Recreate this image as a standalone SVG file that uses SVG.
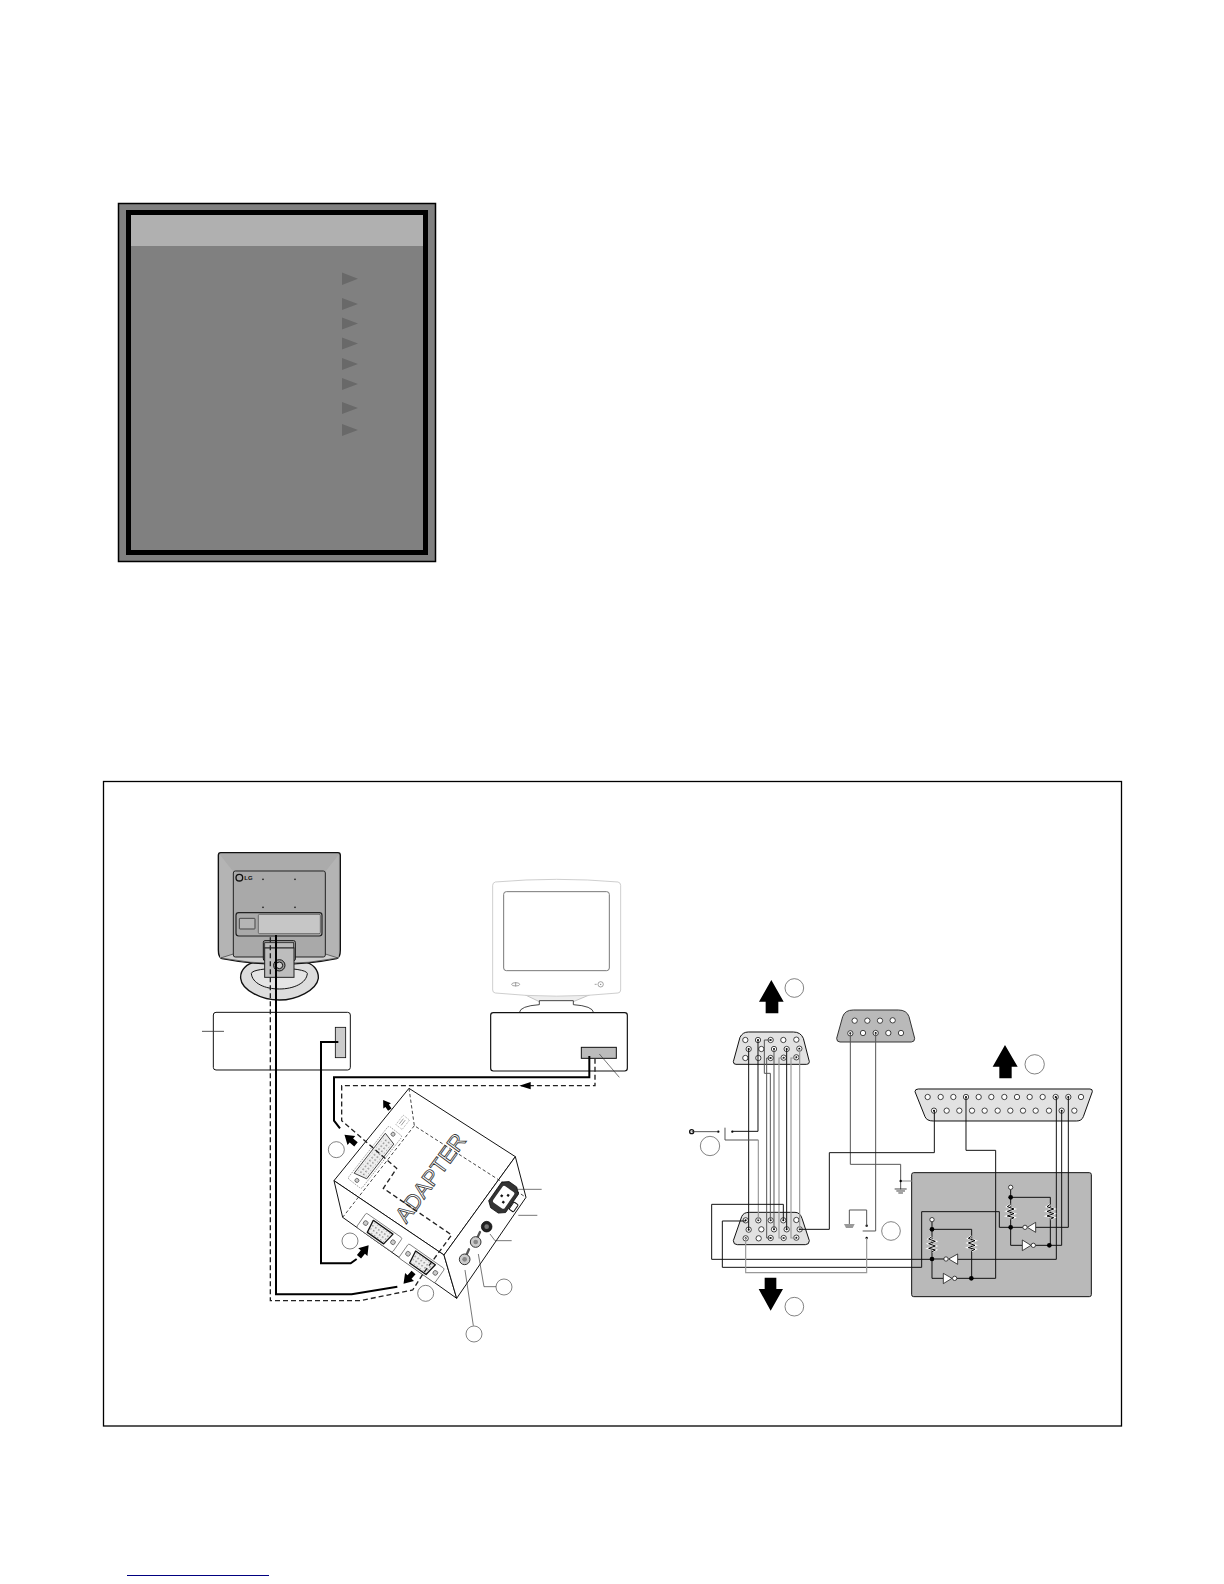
<svg xmlns="http://www.w3.org/2000/svg" xmlns:xlink="http://www.w3.org/1999/xlink" width="1224" height="1584" viewBox="0 0 1224 1584">
<style>
.k{fill:none;stroke:#111;stroke-width:3}
.d{fill:none;stroke:#555;stroke-width:3}
.g{fill:none;stroke:#999;stroke-width:3.5}
.cab{fill:none;stroke:#000;stroke-width:6}
.dash{fill:none;stroke:#222;stroke-width:4;stroke-dasharray:15 9}
.thin{fill:none;stroke:#222;stroke-width:2.5;stroke-dasharray:10 7}
.lead{fill:none;stroke:#333;stroke-width:2}
.lab{fill:#fff;stroke:#444;stroke-width:2}
.e{fill:#fff;stroke:#222;stroke-width:2.5}
.face{fill:#fff;stroke:#111;stroke-width:3;stroke-linejoin:round}
.tri{fill:#696969}
.dot{fill:#000}
</style>
<defs>
<polygon id="ba" points="0,-24 -20,6 -9,6 -9,26 9,26 9,6 20,6" fill="#000"/>
<g id="pin"><circle r="8" class="e"/><circle r="3" fill="#000"/></g>
<circle id="pe" r="8" class="e"/>
<g id="res"><path d="M0 -22 L-10 -15 L10 -8 L-10 -1 L10 6 L-10 13 L10 18 L0 23" fill="none" stroke="#fff" stroke-width="6"/><path d="M0 -22 L-10 -15 L10 -8 L-10 -1 L10 6 L-10 13 L10 18 L0 23" fill="none" stroke="#000" stroke-width="3"/></g>
<pattern id="dots" width="11" height="11" patternUnits="userSpaceOnUse"><circle cx="5" cy="5" r="2.300" fill="#777"/></pattern>
</defs>
<rect width="1224" height="1584" fill="#fff"/>

<g id="osd-panel">
<rect x="118.5" y="203.5" width="317" height="358" fill="#808080" stroke="#000" stroke-width="1.5"/>
<rect x="128.500" y="212.500" width="297" height="340" fill="#808080" stroke="#000" stroke-width="5"/>
<rect x="131" y="215" width="292" height="31" fill="#b0b0b0"/>
<polygon class="tri" points="342,272.500 358,278.700 342,285"/>
<polygon class="tri" points="342,298 358,304 342,310"/>
<polygon class="tri" points="342,317.500 358,323.500 342,329.500"/>
<polygon class="tri" points="342,337.500 358,343.500 342,349.500"/>
<polygon class="tri" points="342,358 358,364 342,370"/>
<polygon class="tri" points="342,378 358,384 342,390"/>
<polygon class="tri" points="342,402 358,408 342,414"/>
<polygon class="tri" points="342,424 358,430 342,436"/>
</g>

<rect id="frame" x="103.500" y="781.500" width="1018" height="644.500" fill="#fff" stroke="#000" stroke-width="1.300"/>

<g id="lcd-monitor" transform="translate(190 830) scale(.33333)">
<path d="M152 445 C150 420 170 400 200 395 H340 C370 400 386 420 385 445 C380 480 320 510 268 510 C215 510 155 480 152 445Z" fill="#ddd" stroke="#111" stroke-width="4"/>
<path d="M184 430 C190 410 345 410 352 430 C350 460 310 477 268 477 C225 477 186 460 184 430Z" fill="#e4e4e4" stroke="#111" stroke-width="3"/>
<path d="M92 68 H444 Q451 68 451 76 V360 Q451 382 440 386 Q270 420 96 386 Q85 382 85 360 V76 Q85 68 92 68Z" fill="#ababab" stroke="#111" stroke-width="4"/>
<path d="M90 74 L130 125 V372 L90 384Z M446 74 L406 125 V372 L446 384Z" fill="#b4b4b4"/>
<path d="M92 384 L130 372 H406 L444 384 Q270 418 92 384Z" fill="#cfcfcf" stroke="#333" stroke-width="2"/>
<rect x="130" y="123" width="276" height="258" rx="6" fill="#a9a9a9" stroke="#222" stroke-width="3"/>
<circle cx="148" cy="143" r="10" fill="none" stroke="#111" stroke-width="4"/>
<text x="163" y="150" font-family="Liberation Sans, sans-serif" font-size="18" font-weight="bold" fill="#111">LG</text>
<circle cx="219" cy="148" r="2.500" fill="#111"/><circle cx="315" cy="148" r="2.500" fill="#111"/><circle cx="219" cy="232" r="2.500" fill="#111"/><circle cx="315" cy="232" r="2.500" fill="#111"/>
<rect x="138" y="248" width="258" height="70" rx="8" fill="#a9a9a9" stroke="#222" stroke-width="3.500"/>
<rect x="205" y="253" width="186" height="58" rx="4" fill="#c6c6c6" stroke="#444" stroke-width="2"/>
<rect x="148" y="265" width="47" height="32" rx="2" fill="#b5b5b5" stroke="#333" stroke-width="2.500"/>
<rect x="220" y="332" width="96" height="60" rx="5" fill="#a9a9a9" stroke="#111" stroke-width="3"/>
<rect x="224" y="338" width="87" height="16" fill="#bbb" stroke="#222" stroke-width="2.500"/>
<rect x="224" y="354" width="88" height="88" fill="#bdbdbd" stroke="#222" stroke-width="3"/>
<circle cx="268" cy="406" r="17" fill="#999" stroke="#111" stroke-width="3"/>
<circle cx="268" cy="406" r="10" fill="#ccc" stroke="#111" stroke-width="3"/>
</g>

<g id="pc-left" transform="translate(190 830) scale(.33333)">
<rect x="70" y="547" width="411" height="173" rx="8" fill="#fff" stroke="#111" stroke-width="3"/>
<rect x="436" y="592" width="31" height="91" fill="#ccc" stroke="#111" stroke-width="2.500"/>
<path d="M36 604 H102" stroke="#333" stroke-width="2.500"/>
</g>

<g id="crt-monitor" transform="translate(470 860) scale(.33333)">
<path d="M160 402 L208 425 H310 L365 402Z" fill="#eee" stroke="#aaa" stroke-width="2"/>
<path d="M148 458 Q150 438 208 434 V422 H310 V434 Q368 438 371 458Z" fill="#fff" stroke="#222" stroke-width="2.500"/>
<path d="M76 66 Q260 50 444 66 Q452 68 452 76 V390 Q452 398 444 399 Q260 418 76 399 Q68 398 68 390 V76 Q68 68 76 66Z" fill="#fff" stroke="#c4c4c4" stroke-width="2.500"/>
<rect x="101" y="95" width="317" height="237" rx="8" fill="#fff" stroke="#777" stroke-width="3"/>
<ellipse cx="137" cy="373" rx="12" ry="5" fill="none" stroke="#777" stroke-width="2"/>
<path d="M137 367 V379" stroke="#777" stroke-width="2"/>
<circle cx="392" cy="373" r="8" fill="none" stroke="#777" stroke-width="2"/>
<circle cx="392" cy="373" r="2" fill="#777"/>
<path d="M374 373 H380" stroke="#777" stroke-width="2"/>
</g>

<g id="pc-right" transform="translate(470 860) scale(.33333)">
<rect x="62" y="458" width="410" height="175" rx="8" fill="#fff" stroke="#111" stroke-width="3.500"/>
<rect x="334" y="562" width="105" height="33" fill="#bbb" stroke="#111" stroke-width="3"/>
<path d="M388 582 L448 652" stroke="#333" stroke-width="2"/>
</g>

<g id="adapter" transform="translate(260 1060) scale(.33333)">
<polygon class="face" points="447,85 766,290 552,585 222,362"/>
<polygon class="face" points="222,362 552,585 590,715 248,472"/>
<polygon class="face" points="552,585 766,290 798,412 590,715"/>
<path class="thin" d="M447 85 L463 197 L798 412 M463 197 L248 472"/>
<text x="0" y="0" transform="translate(530 367) rotate(-54)" text-anchor="middle" font-family="Liberation Sans, sans-serif" font-size="66" fill="#fff" stroke="#333" stroke-width="2.500">ADAPTER</text>
<g transform="translate(345 292) rotate(-52)">
<rect x="-100" y="-26" width="200" height="52" rx="6" fill="#fff" stroke="#777" stroke-width="2" stroke-dasharray="4 3"/>
<path d="M-76 -20 H76 L66 20 H-66Z" fill="#eee" stroke="#333" stroke-width="2.500" stroke-linejoin="round"/>
<path d="M-70 -15 H70 L62 15 H-62Z" fill="url(#dots)"/>
<circle cx="-88" cy="0" r="6" fill="#ccc" stroke="#444" stroke-width="2"/>
<circle cx="88" cy="0" r="6" fill="#ccc" stroke="#444" stroke-width="2"/>
</g>
<g transform="translate(428 187) rotate(-52)"><rect x="-18" y="-12" width="36" height="24" fill="#fff" stroke="#888" stroke-width="2" stroke-dasharray="3 3"/><path d="M-10 -5 H10 M-10 2 H10" stroke="#777" stroke-width="2"/></g>
<g transform="translate(358 518) rotate(35)">
<rect x="-66" y="-26" width="132" height="52" rx="5" fill="#fff" stroke="#555" stroke-width="2"/>
<path d="M-36 -20 H36 L30 20 H-30Z" fill="#eee" stroke="#111" stroke-width="4" stroke-linejoin="round"/>
<path d="M-32 -16 H32 L27 16 H-27Z" fill="url(#dots)"/>
<circle cx="-50" cy="0" r="7" fill="#ccc" stroke="#444" stroke-width="2"/>
<circle cx="50" cy="0" r="7" fill="#ccc" stroke="#444" stroke-width="2"/>
</g>
<g transform="translate(485 610) rotate(35)">
<rect x="-66" y="-26" width="132" height="52" rx="5" fill="#fff" stroke="#555" stroke-width="2"/>
<path d="M-36 -20 H36 L30 20 H-30Z" fill="#eee" stroke="#111" stroke-width="4" stroke-linejoin="round"/>
<path d="M-32 -16 H32 L27 16 H-27Z" fill="url(#dots)"/>
<circle cx="-50" cy="0" r="7" fill="#ccc" stroke="#444" stroke-width="2"/>
<circle cx="50" cy="0" r="7" fill="#ccc" stroke="#444" stroke-width="2"/>
</g>
<g transform="translate(731 412) rotate(-55)">
<path d="M-48 -14 L-34 -31 H34 L48 -14 V14 L34 31 H-34 L-48 14Z" fill="#333" stroke="#000" stroke-width="2"/>
<rect x="-30" y="-21" width="60" height="42" rx="6" fill="#fff"/>
<rect x="-16" y="4" width="7" height="7" fill="#111"/><rect x="9" y="4" width="7" height="7" fill="#111"/><rect x="-3" y="-11" width="7" height="7" fill="#111"/>
</g>
<rect x="753" y="428" width="16" height="26" rx="3" transform="rotate(35 761 441)" fill="#fff" stroke="#111" stroke-width="3"/>
<circle cx="680" cy="500" r="16" fill="#222" stroke="#000" stroke-width="2"/>
<circle cx="680" cy="500" r="7" fill="#777"/>
<path d="M650 538 L660 516" stroke="#555" stroke-width="7" stroke-linecap="round"/>
<circle cx="647" cy="546" r="16" fill="#ccc" stroke="#333" stroke-width="3"/>
<circle cx="647" cy="546" r="7" fill="#888"/>
<path d="M617 590 L627 568" stroke="#555" stroke-width="7" stroke-linecap="round"/>
<circle cx="614" cy="598" r="16" fill="#ccc" stroke="#333" stroke-width="3"/>
<circle cx="614" cy="598" r="7" fill="#888"/>
</g>

<g id="port-labels" transform="translate(260 1060) scale(.33333)">
<circle class="lab" cx="229" cy="269" r="24"/>
<circle class="lab" cx="270" cy="543" r="24"/>
<circle class="lab" cx="497" cy="700" r="24"/>
<circle class="lab" cx="732" cy="681" r="24"/>
<circle class="lab" cx="642" cy="822" r="24"/>
<path class="lead" d="M770 388 H845 M775 466 H832 M690 522 L705 542 H755 M655 582 L672 680 H708 M615 630 L640 797"/>
</g>

<g id="cables" transform="translate(260 1060) scale(.33333)">
<path class="cab" d="M48 -375 V703 H275 L412 680"/>
<path class="dash" d="M31 -368 V722 H300 L458 690 L490 640 L575 525 L370 385 L410 325 L245 182 V77 H1005 V-5"/>
<path class="cab" d="M235 -54 H183 V610 H272 L290 597"/>
<path class="cab" d="M988 -12 V52 H222 V182 L240 205"/>
<polygon points="778,77 812,66 812,88" fill="#000"/>
<use xlink:href="#ba" href="#ba" transform="translate(270 238) rotate(-50) scale(.9)"/>
<use xlink:href="#ba" href="#ba" transform="translate(379 134) rotate(-35) scale(.7)"/>
<use xlink:href="#ba" href="#ba" transform="translate(312 572) rotate(40) scale(.9)"/>
<use xlink:href="#ba" href="#ba" transform="translate(445 655) rotate(222) scale(.9)"/>
</g>

<g id="vga-top" transform="translate(680 960) scale(.33333)">
<path d="M160 305 L180 232 Q188 216 205 216 H340 Q362 216 370 235 L388 305 Q388 313 380 313 H168 Q160 313 160 305Z" fill="#e2e2e2" stroke="#111" stroke-width="3"/>
<use href="#pe" x="196" y="240"/><use href="#pin" x="234" y="240"/><use href="#pin" x="272" y="240"/><use href="#pe" x="310" y="240"/><use href="#pe" x="349" y="239"/>
<use href="#pin" x="206" y="267"/><use href="#pe" x="244" y="267"/><use href="#pin" x="282" y="267"/><use href="#pin" x="320" y="267"/><use href="#pin" x="358" y="266"/>
<use href="#pe" x="196" y="294"/><use href="#pe" x="235" y="294"/><use href="#pin" x="272" y="294"/><use href="#pin" x="311" y="293"/><use href="#pin" x="349" y="292"/>
<path d="M274 60 L237 125 H257 V160 H295 V125 H311Z" fill="#000"/>
<circle class="lab" cx="343" cy="84" r="28"/>
<circle class="lab" cx="90" cy="558" r="29"/>
<circle cx="35" cy="515" r="6" fill="#fff" stroke="#111" stroke-width="4"/>
<circle cx="115" cy="515" r="3.500" class="dot"/><circle cx="157" cy="515" r="3.500" class="dot"/>
<path d="M35 515 H115" stroke="#333" stroke-width="2.500"/>
</g>

<g id="dsub9" transform="translate(680 960) scale(.33333)">
<path d="M470 235 L488 170 Q495 150 520 150 H655 Q680 150 687 170 L704 235 Q704 246 694 246 H480 Q470 246 470 235Z" fill="#b9b9b9" stroke="#333" stroke-width="3"/>
<use href="#pe" x="524" y="182"/><use href="#pe" x="562" y="182"/><use href="#pe" x="600" y="182"/><use href="#pe" x="638" y="181"/>
<use href="#pin" x="511" y="220"/><use href="#pe" x="549" y="219"/><use href="#pin" x="587" y="219"/><use href="#pe" x="625" y="219"/><use href="#pe" x="663" y="219"/>
</g>

<g id="vga-bottom" transform="translate(690 1150) scale(.33333)">
<path d="M130 272 L155 200 Q160 187 178 187 H315 Q330 187 336 205 L358 272 Q358 284 346 284 H142 Q130 284 130 272Z" fill="#e2e2e2" stroke="#111" stroke-width="3"/>
<use href="#pin" x="167" y="211"/><use href="#pin" x="205" y="211"/><use href="#pin" x="242" y="211"/><use href="#pin" x="280" y="211"/><use href="#pe" x="319" y="210"/>
<use href="#pin" x="176" y="239"/><use href="#pe" x="214" y="238"/><use href="#pin" x="252" y="238"/><use href="#pin" x="290" y="238"/><use href="#pin" x="329" y="238"/>
<use href="#pin" x="167" y="265"/><use href="#pe" x="206" y="265"/><use href="#pin" x="242" y="264"/><use href="#pin" x="281" y="264"/><use href="#pin" x="319" y="263"/>
<path d="M224 383 H259 V417 H279 L242 482 L206 417 H224Z" fill="#000"/>
<circle class="lab" cx="313" cy="470" r="28"/>
<circle class="lab" cx="603" cy="243" r="28"/>
<path d="M462 222 H494 L488 234 H468Z" fill="#999"/>
<circle cx="530" cy="227" r="3.500" class="dot"/><circle cx="530" cy="264" r="3.500" class="dot"/>
</g>

<g id="latch-box" transform="translate(890 1040) scale(.33333)">
<rect x="65" y="398" width="539" height="372" rx="6" fill="#b9b9b9" stroke="#111" stroke-width="3"/>
</g>

<g id="db25" transform="translate(890 1040) scale(.33333)">
<path d="M75 155 Q75 147 85 147 H600 Q608 147 607 155 L580 230 Q575 243 560 243 H130 Q110 243 105 230Z" fill="#e2e2e2" stroke="#111" stroke-width="3"/>
<use href="#pe" x="113" y="171"/><use href="#pe" x="152" y="171"/><use href="#pe" x="190" y="171"/><use href="#pin" x="228" y="171"/><use href="#pe" x="266" y="171"/><use href="#pe" x="304" y="171"/><use href="#pe" x="343" y="171"/><use href="#pe" x="381" y="171"/><use href="#pe" x="419" y="171"/><use href="#pe" x="458" y="171"/><use href="#pin" x="497" y="171"/><use href="#pin" x="535" y="171"/><use href="#pe" x="573" y="171"/>
<use href="#pin" x="132" y="212"/><use href="#pe" x="170" y="212"/><use href="#pe" x="208" y="212"/><use href="#pe" x="246" y="212"/><use href="#pe" x="284" y="212"/><use href="#pe" x="323" y="212"/><use href="#pe" x="361" y="212"/><use href="#pe" x="399" y="212"/><use href="#pe" x="437" y="212"/><use href="#pe" x="477" y="212"/><use href="#pin" x="515" y="212"/><use href="#pe" x="553" y="212"/>
<path d="M345 15 L308 80 H328 V115 H365 V80 H383Z" fill="#000"/>
<circle class="lab" cx="434" cy="73" r="29"/>
</g>

<g id="wiring" transform="translate(690 1150) scale(.33333)">
<path class="k" d="M176 -303 V239"/>
<path class="k" d="M204 -330 V-56 H127"/>
<path class="d" d="M105 -67 V-30 H205"/><path class="g" d="M205 -30 V211"/>
<path class="d" d="M242 -330 H223 V-230 H241 V211"/>
<path class="d" d="M242 -276 H230 V264 H242"/>
<path class="d" d="M252 -303 V238"/>
<path class="g" d="M281 -276 H267 V264 H281"/>
<path class="k" d="M290 -303 V238"/>
<path class="g" d="M319 -276 H303 V264 H319"/>
<path class="g" d="M329 -303 V238"/>
<path class="d" d="M481 -350 V43 H632 V118"/>
<path class="d" d="M557 -350 V243 H518"/>
<path class="k" d="M280 211 V163 H65 V328 H726"/>
<path class="k" d="M167 213 H97 V352 H695 V185 H928 V232 H962"/>
<path class="k" d="M329 238 H418 V8 H733 V-118"/>
<path class="g" d="M167 264 V368 H530 V264"/>
<path class="d" d="M530 227 V180 H478 V222"/>
<path class="k" d="M828 -159 V1 H917 V385 H794"/>
<path class="k" d="M1097 -159 H1099 V328 H803"/>
<path class="k" d="M1115 -118 V286 H1030"/>
<path class="k" d="M1135 -159 V232 H1037"/>
<path class="g" d="M632 93 H665"/>
<circle cx="632" cy="93" r="3.500" class="dot"/>
<path d="M614 117 H650 M619 123 H645 M625 129 H639" stroke="#222" stroke-width="2.500"/>
</g>

<g id="latch" transform="translate(890 1040) scale(.33333)">
<path class="k" d="M362 448 V562 V616 H397 M362 472 H481 V616 M362 562 H399"/>
<path class="k" d="M126 545 V715 H160 M126 568 H245 V715 M126 657 H168"/>
<use href="#res" x="362" y="515"/><use href="#res" x="481" y="515"/>
<use href="#res" x="126" y="612"/><use href="#res" x="245" y="610"/>
<circle cx="362" cy="442" r="6.500" class="e" stroke-width="2"/>
<circle cx="126" cy="539" r="6.500" class="e" stroke-width="2"/>
<circle cx="362" cy="472" r="7" class="dot"/><circle cx="362" cy="562" r="7" class="dot"/><circle cx="478" cy="616" r="7" class="dot"/>
<circle cx="126" cy="568" r="7" class="dot"/><circle cx="126" cy="657" r="7" class="dot"/><circle cx="244" cy="715" r="7" class="dot"/>
<polygon points="397,600 397,632 423,616" class="e" stroke-width="2"/><circle cx="430" cy="616" r="6.500" class="e" stroke-width="2"/>
<polygon points="437,547 437,577 412,562" class="e" stroke-width="2"/><circle cx="405" cy="562" r="6.500" class="e" stroke-width="2"/>
<polygon points="160,700 160,731 186,715" class="e" stroke-width="2"/><circle cx="194" cy="715" r="6.500" class="e" stroke-width="2"/>
<polygon points="203,642 203,673 176,657" class="e" stroke-width="2"/><circle cx="168" cy="657" r="6.500" class="e" stroke-width="2"/>
</g>

<path id="footer-rule" d="M127 1575.500 H269" stroke="#000080" stroke-width="1.200"/>
</svg>
